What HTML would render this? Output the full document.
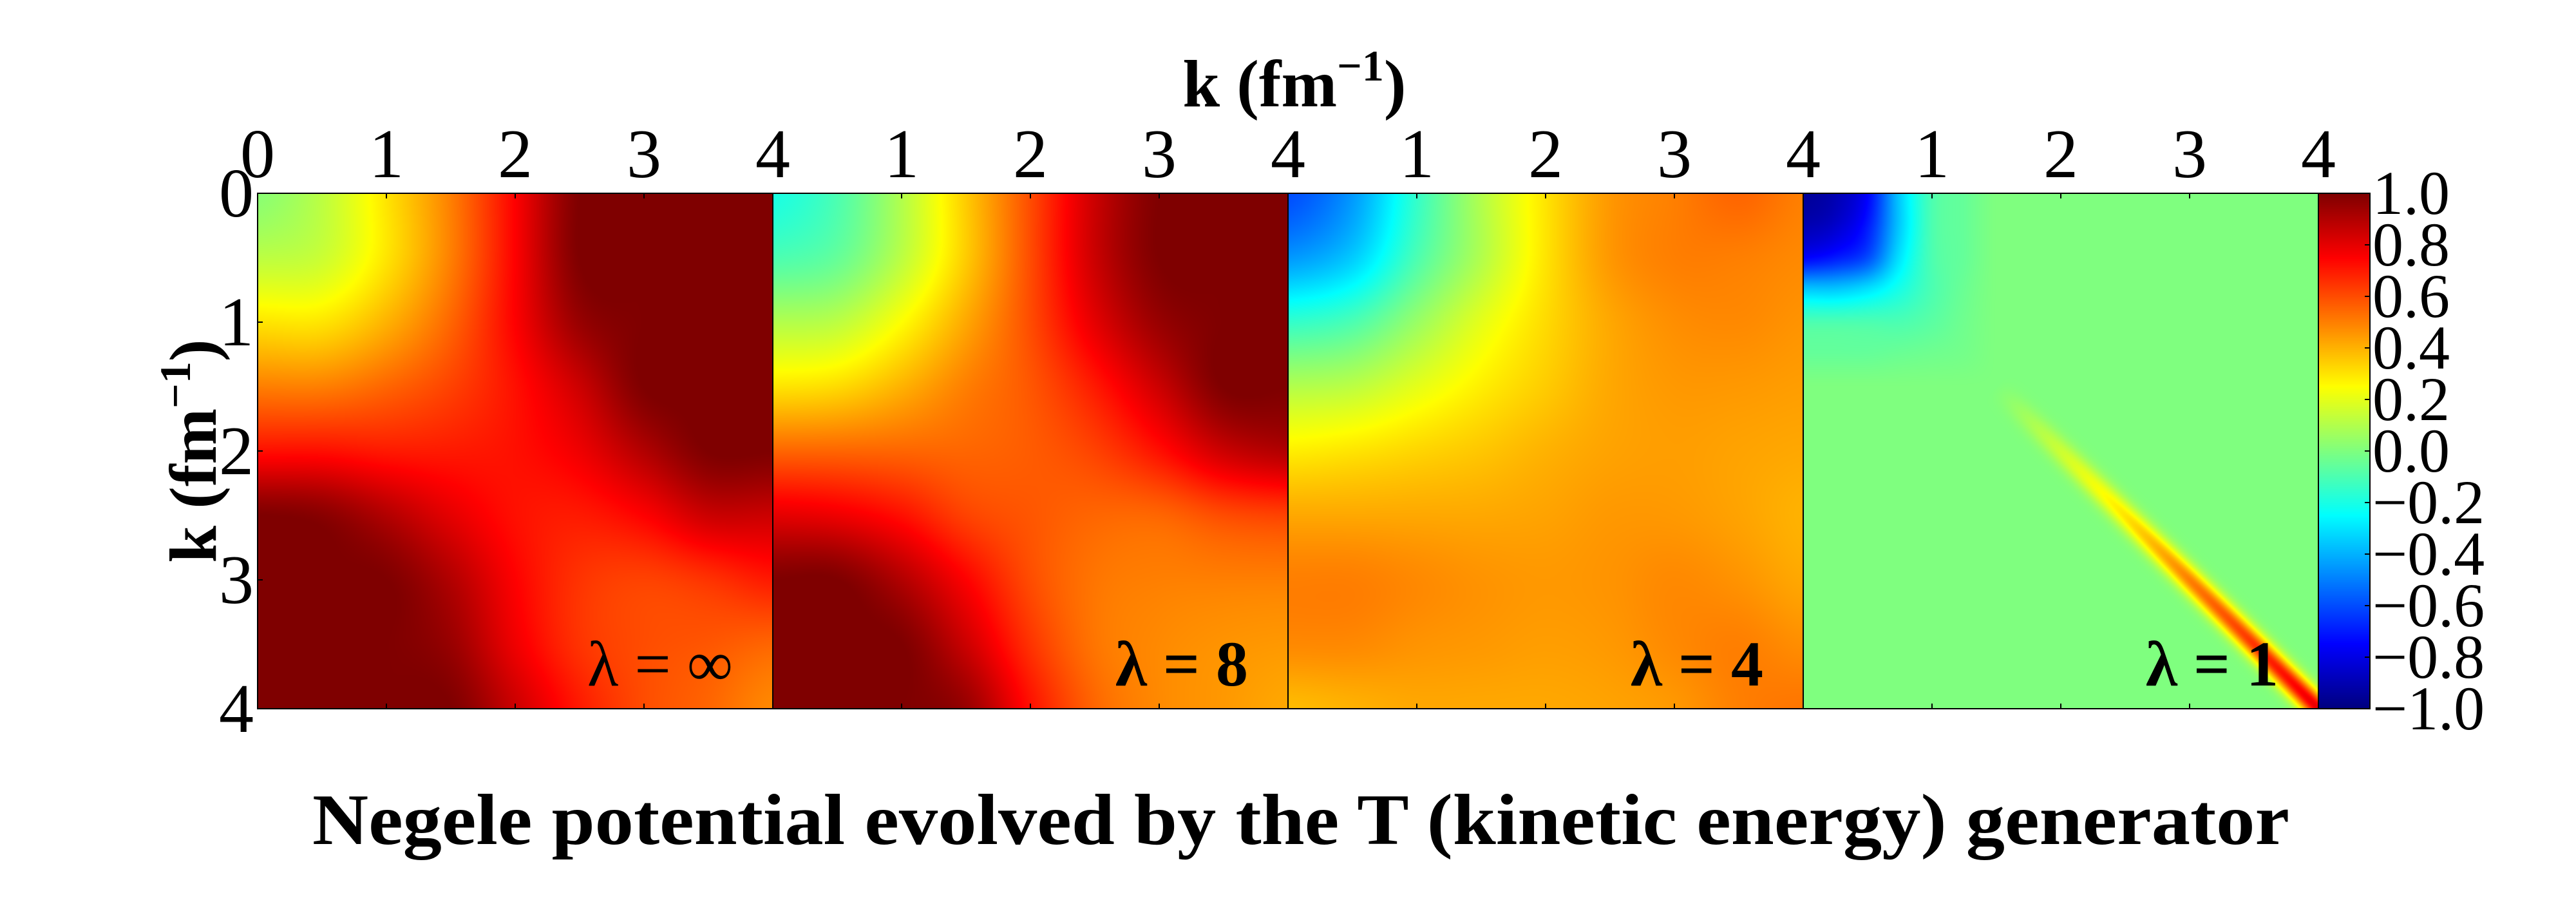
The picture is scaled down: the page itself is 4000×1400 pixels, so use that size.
<!DOCTYPE html>
<html><head><meta charset="utf-8"><style>
html,body{margin:0;padding:0;background:#fff;}
#wrap{position:relative;width:4000px;height:1400px;overflow:hidden;background:#fff;}
canvas{position:absolute;left:0;top:0;}
svg{position:absolute;left:0;top:0;}
text{font-family:"Liberation Serif",serif;fill:#000;}
</style></head><body>
<div id="wrap">
<canvas id="cv" width="4000" height="1400"></canvas>
<svg id="sv" width="4000" height="1400"></svg>
</div>
<script>
// ---- data ----
const panelLabels = ["\u03bb = \u221e", "\u03bb = 8", "\u03bb = 4", "\u03bb = 1"];
const kTicks = [0, 1, 2, 3, 4];
const cbTicks = ["1.0","0.8","0.6","0.4","0.2","0.0","\u22120.2","\u22120.4","\u22120.6","\u22120.8","\u22121.0"];
const cbValues = [1.0,0.8,0.6,0.4,0.2,0.0,-0.2,-0.4,-0.6,-0.8,-1.0];
const gridStep = [0.5, 0.5, 0.5, 0.25];
const gridInf = [
[0.02,0.12,0.3,0.5,0.75,1,1,1,1],
[0.12,0.15,0.3,0.5,0.75,1,1,1,1],
[0.3,0.3,0.4,0.55,0.75,0.95,1,1,1],
[0.5,0.5,0.55,0.62,0.72,0.85,1,1,1],
[0.72,0.72,0.7,0.7,0.72,0.78,0.9,1,1],
[1,0.98,0.9,0.8,0.72,0.7,0.75,0.85,0.85],
[1,1,1,0.9,0.75,0.65,0.62,0.65,0.7],
[1,1,1,0.95,0.78,0.65,0.6,0.58,0.55],
[1,1,1,1,0.85,0.7,0.6,0.55,0.48]];
const grid8 = [
[-0.2,-0.1,0.1,0.35,0.6,0.85,1,1,1],
[-0.1,-0.05,0.12,0.35,0.6,0.85,1,1,1],
[0.1,0.12,0.25,0.42,0.6,0.8,0.95,1,1],
[0.3,0.32,0.4,0.5,0.58,0.7,0.85,1,1],
[0.55,0.55,0.55,0.55,0.57,0.62,0.72,0.85,0.9],
[0.8,0.78,0.72,0.62,0.58,0.55,0.55,0.6,0.62],
[1,1,0.9,0.75,0.6,0.52,0.5,0.5,0.5],
[1,1,1,0.85,0.65,0.52,0.48,0.46,0.45],
[1,1,1,0.95,0.72,0.55,0.48,0.45,0.42]];
const grid4 = [
[-0.6,-0.45,-0.15,0.1,0.3,0.45,0.5,0.55,0.5],
[-0.45,-0.35,-0.1,0.1,0.3,0.45,0.5,0.5,0.48],
[-0.15,-0.1,0.05,0.2,0.32,0.42,0.47,0.48,0.46],
[0.1,0.12,0.2,0.28,0.35,0.42,0.45,0.45,0.44],
[0.28,0.3,0.33,0.36,0.4,0.43,0.44,0.43,0.42],
[0.42,0.42,0.42,0.42,0.43,0.45,0.45,0.43,0.4],
[0.5,0.5,0.48,0.46,0.45,0.46,0.48,0.46,0.42],
[0.48,0.48,0.46,0.45,0.44,0.45,0.48,0.5,0.47],
[0.38,0.4,0.42,0.42,0.42,0.43,0.45,0.5,0.52]];
const grid1 = [
[-0.95,-0.9,-0.75,-0.35,-0.1,-0.05,0],
[-0.9,-0.85,-0.7,-0.35,-0.1,-0.05,0],
[-0.75,-0.7,-0.6,-0.3,-0.1,-0.05,0],
[-0.35,-0.35,-0.3,-0.2,-0.1,-0.04,0],
[-0.1,-0.1,-0.1,-0.1,-0.07,-0.03,0],
[-0.05,-0.05,-0.05,-0.04,-0.03,-0.02,0],
[0,0,0,0,0,0,0]];
const diagK = [1.5, 2.0, 2.5, 3.0, 3.5, 4.0];
const diagAmp = [0.0, 0.15, 0.3, 0.5, 0.65, 0.8];
const grids = [gridInf, grid8, grid4, grid1];

// ---- layout ----
const P0X = 400, P0Y = 300, PW = 800, PH = 800, CBX = 3600, CBW = 80;
const kMax = 4, DIAG_W = 0.09;
function xScale(p, k){ return P0X + p*PW + k/kMax*PW; }
function yScale(k){ return P0Y + k/kMax*PH; }
function cbScale(v){ return P0Y + (1 - v)/2*PH; }

function jet(v){
  let t = (v+1)/2; t = Math.max(0, Math.min(1, t));
  const f = x => Math.max(0, Math.min(1, x));
  const r = f(Math.min(4*t-1.5, -4*t+4.5));
  const g = f(Math.min(4*t-0.5, -4*t+3.5));
  const b = f(Math.min(4*t+0.5, -4*t+2.5));
  return [r*255|0, g*255|0, b*255|0];
}
function cr(p0,p1,p2,p3,t){
  return 0.5*((2*p1)+(-p0+p2)*t+(2*p0-5*p1+4*p2-p3)*t*t+(-p0+3*p1-3*p2+p3)*t*t*t);
}
function gridVal(G, step, kx, ky){
  const n = G.length;
  let gx = Math.min(kx/step, n-1-1e-9), gy = Math.min(ky/step, n-1-1e-9);
  const i = Math.floor(gy), j = Math.floor(gx);
  const fy = gy-i, fx = gx-j;
  const g = (a,b)=>G[Math.max(0,Math.min(n-1,a))][Math.max(0,Math.min(n-1,b))];
  const rows = [];
  for (let di=-1; di<=2; di++) rows.push(cr(g(i+di,j-1),g(i+di,j),g(i+di,j+1),g(i+di,j+2),fx));
  return cr(rows[0],rows[1],rows[2],rows[3],fy);
}
function diagVal(kx, ky){
  const km = (kx+ky)/2, dd = (kx-ky)/Math.SQRT2;
  let amp = 0;
  if (km <= diagK[0]) amp = 0;
  else if (km >= diagK[diagK.length-1]) amp = diagAmp[diagAmp.length-1];
  else for (let i=0;i<diagK.length-1;i++) if (km>=diagK[i] && km<=diagK[i+1]) {
    amp = diagAmp[i] + (diagAmp[i+1]-diagAmp[i])*(km-diagK[i])/(diagK[i+1]-diagK[i]);
  }
  return amp*Math.exp(-(dd*dd)/(DIAG_W*DIAG_W));
}

const cv = document.getElementById('cv');
const ctx = cv.getContext('2d');
for (let p=0;p<4;p++){
  const img = ctx.createImageData(PW, PH);
  for (let y=0;y<PH;y++){
    const ky = (y+0.5)/PH*kMax;
    for (let x=0;x<PW;x++){
      const kx = (x+0.5)/PW*kMax;
      let v;
      if (p===3){
        v = (kx < 1.5 && ky < 1.5) ? gridVal(grids[p], gridStep[p], kx, ky) : 0;
        v += diagVal(kx, ky);
      } else v = gridVal(grids[p], gridStep[p], kx, ky);
      const c = jet(v); const o = (y*PW+x)*4;
      img.data[o]=c[0]; img.data[o+1]=c[1]; img.data[o+2]=c[2]; img.data[o+3]=255;
    }
  }
  ctx.putImageData(img, xScale(p,0), yScale(0));
}
for (let y=0;y<PH;y++){
  const v = 1 - 2*(y+0.5)/PH; const c = jet(v);
  ctx.fillStyle = `rgb(${c[0]},${c[1]},${c[2]})`;
  ctx.fillRect(CBX, P0Y+y, CBW, 1);
}

// ---- svg overlay ----
const NS = "http://www.w3.org/2000/svg";
const sv = document.getElementById('sv');
function mk(tag, attrs, txt){
  const e = document.createElementNS(NS, tag);
  for (const k in attrs) e.setAttribute(k, attrs[k]);
  if (txt !== undefined) e.textContent = txt;
  sv.appendChild(e); return e;
}
for (let p=0;p<4;p++){
  const r = mk('rect',{x:xScale(p,0),y:P0Y,width:PW,height:PH,fill:'none',stroke:'#000','stroke-width':2});
  
  
  for (const k of kTicks){
    const x = xScale(p,k);
    const t1 = mk('line',{x1:x,y1:P0Y,x2:x,y2:P0Y+8,stroke:'#000','stroke-width':2});
     
    const t2 = mk('line',{x1:x,y1:P0Y+PH,x2:x,y2:P0Y+PH-8,stroke:'#000','stroke-width':2});
     
    if (p>0 && k===0) continue;
    const lab = mk('text',{x:x,y:275,'font-size':108,'text-anchor':'middle'}, String(k));
     
  }
  const pl = mk('text',{x:xScale(p,4)-62,y:1064,'font-size':100,'text-anchor':'end','font-weight':p>0?'bold':'normal'}, panelLabels[p]);
   
}
for (const k of kTicks){
  const y = yScale(k);
  const lab = mk('text',{x:394,y:y+36,'font-size':108,'text-anchor':'end'}, String(k));
   
  const t = mk('line',{x1:P0X,y1:y,x2:P0X+8,y2:y,stroke:'#000','stroke-width':2});
   
}
const cbf = mk('rect',{x:CBX,y:P0Y,width:CBW,height:PH,fill:'none',stroke:'#000','stroke-width':2});
 
for (let i=0;i<cbValues.length;i++){
  const y = cbScale(cbValues[i]);
  const t = mk('line',{x1:CBX+CBW,y1:y,x2:CBX+CBW-8,y2:y,stroke:'#000','stroke-width':2});
   
  const lab = mk('text',{x:CBX+CBW+4,y:y+32,'font-size':96}, cbTicks[i]);
   
}
const xt = mk('text',{x:2010,y:165,'font-size':104,'font-weight':'bold','text-anchor':'middle'});
xt.innerHTML = 'k (fm<tspan dy="-40" font-size="68">\u22121</tspan><tspan dy="40">)</tspan>';
 
const yt = mk('text',{x:0,y:0,'font-size':104,'font-weight':'bold','text-anchor':'middle',transform:'translate(335,700) rotate(-90)'});
yt.innerHTML = 'k (fm<tspan dy="-40" font-size="68">\u22121</tspan><tspan dy="40">)</tspan>';
 
const ti = mk('text',{x:2020,y:1310,'font-size':112,'font-weight':'bold','text-anchor':'middle',textLength:3070,lengthAdjust:'spacingAndGlyphs'}, 'Negele potential evolved by the T (kinetic energy) generator');
 
</script>
</body></html>
